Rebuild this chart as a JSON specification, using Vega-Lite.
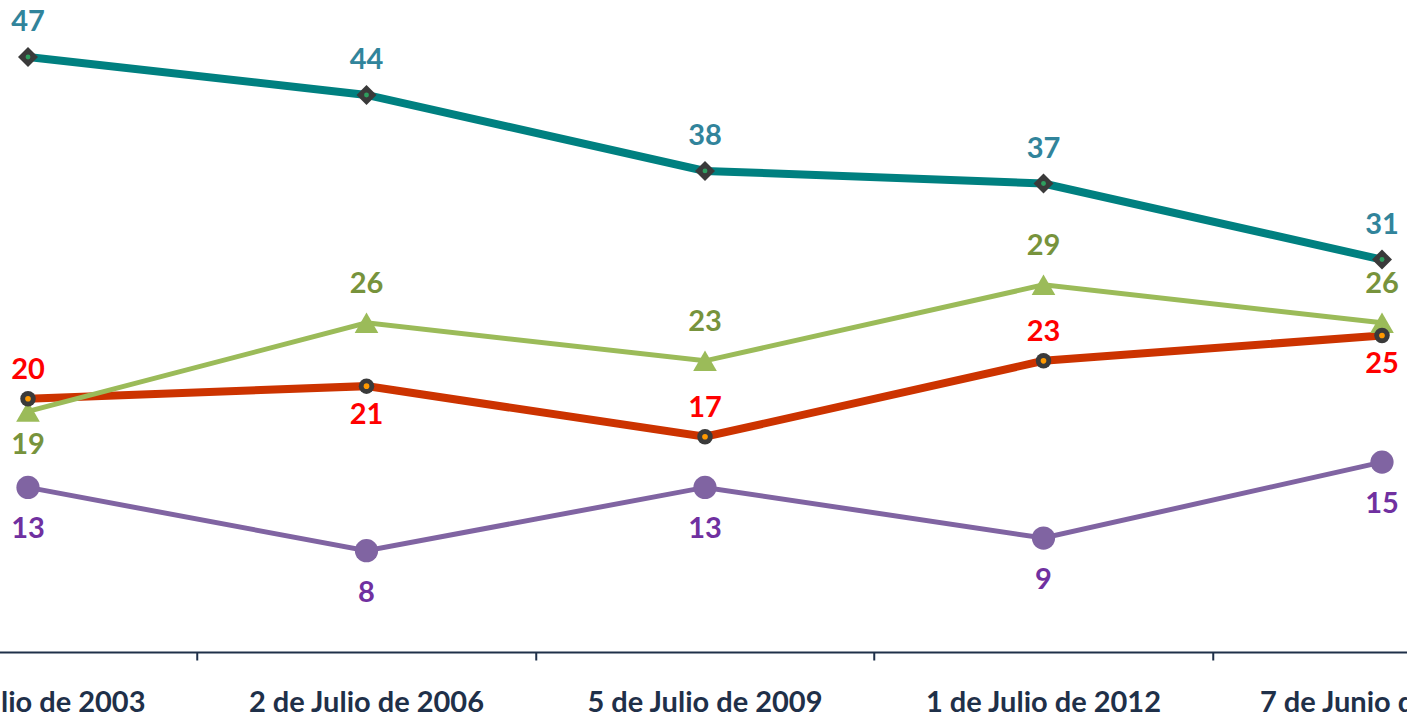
{
  "$schema": "https://vega.github.io/schema/vega-lite/v6.json",
  "width": 1692.5,
  "height": 652,
  "autosize": "none",
  "padding": {"left": -141.25, "right": -144.25, "top": 0, "bottom": 68},
  "background": "white",
  "config": {"view": {"stroke": null}, "text": {"font": "Lato", "fontWeight": "bold", "fontSize": 29}},
  "data": {
    "values": [
      {"fecha": "6 de Julio de 2003", "serie": "A", "valor": 47, "pos": "arriba"},
      {"fecha": "2 de Julio de 2006", "serie": "A", "valor": 44, "pos": "arriba"},
      {"fecha": "5 de Julio de 2009", "serie": "A", "valor": 38, "pos": "arriba"},
      {"fecha": "1 de Julio de 2012", "serie": "A", "valor": 37, "pos": "arriba"},
      {"fecha": "7 de Junio de 2015", "serie": "A", "valor": 31, "pos": "arriba"},
      {"fecha": "6 de Julio de 2003", "serie": "B", "valor": 19, "pos": "abajo"},
      {"fecha": "2 de Julio de 2006", "serie": "B", "valor": 26, "pos": "arriba"},
      {"fecha": "5 de Julio de 2009", "serie": "B", "valor": 23, "pos": "arriba"},
      {"fecha": "1 de Julio de 2012", "serie": "B", "valor": 29, "pos": "arriba"},
      {"fecha": "7 de Junio de 2015", "serie": "B", "valor": 26, "pos": "arriba"},
      {"fecha": "6 de Julio de 2003", "serie": "C", "valor": 20, "pos": "arriba"},
      {"fecha": "2 de Julio de 2006", "serie": "C", "valor": 21, "pos": "abajo"},
      {"fecha": "5 de Julio de 2009", "serie": "C", "valor": 17, "pos": "arriba"},
      {"fecha": "1 de Julio de 2012", "serie": "C", "valor": 23, "pos": "arriba"},
      {"fecha": "7 de Junio de 2015", "serie": "C", "valor": 25, "pos": "abajo"},
      {"fecha": "6 de Julio de 2003", "serie": "D", "valor": 13, "pos": "abajo"},
      {"fecha": "2 de Julio de 2006", "serie": "D", "valor": 8, "pos": "abajo"},
      {"fecha": "5 de Julio de 2009", "serie": "D", "valor": 13, "pos": "abajo"},
      {"fecha": "1 de Julio de 2012", "serie": "D", "valor": 9, "pos": "abajo"},
      {"fecha": "7 de Junio de 2015", "serie": "D", "valor": 15, "pos": "abajo"}
    ]
  },
  "encoding": {
    "x": {
      "field": "fecha",
      "type": "nominal",
      "sort": null,
      "scale": {"type": "band", "paddingInner": 0, "paddingOuter": 0},
      "axis": {
        "title": null,
        "bandPosition": 0,
        "labelOffset": 0,
        "labelAngle": 0,
        "labelFont": "Lato",
        "labelFontWeight": "bold",
        "labelFontSize": 29,
        "labelColor": "#1f3049",
        "labelPadding": 28,
        "labelLimit": 0,
        "labelOverlap": false,
        "labelBound": false,
        "labelFlush": false,
        "domainColor": "#1f3049",
        "domainWidth": 2,
        "tickColor": "#1f3049",
        "tickWidth": 2,
        "tickSize": 8,
        "grid": false
      }
    },
    "y": {
      "field": "valor",
      "type": "quantitative",
      "scale": {"domain": [0, 51.5], "nice": false, "zero": true},
      "axis": null
    }
  },
  "layer": [
    {"transform": [{"filter": "datum.serie === 'A'"}], "mark": {"type": "line", "color": "#008080", "strokeWidth": 8}},
    {"transform": [{"filter": "datum.serie === 'D'"}], "mark": {"type": "line", "color": "#8064a2", "strokeWidth": 5}},
    {"transform": [{"filter": "datum.serie === 'C'"}], "mark": {"type": "line", "color": "#cc3300", "strokeWidth": 8}},
    {"transform": [{"filter": "datum.serie === 'B'"}], "mark": {"type": "line", "color": "#9bbb59", "strokeWidth": 5}},
    {"transform": [{"filter": "datum.serie === 'A'"}], "mark": {"type": "point", "shape": "diamond", "filled": true, "color": "#3a3a3a", "size": 400, "opacity": 1}},
    {"transform": [{"filter": "datum.serie === 'A'"}], "mark": {"type": "point", "shape": "circle", "filled": true, "color": "#2e9e5e", "size": 24, "opacity": 1}},
    {"transform": [{"filter": "datum.serie === 'D'"}], "mark": {"type": "point", "shape": "circle", "filled": true, "color": "#8064a2", "size": 540, "opacity": 1}},
    {"transform": [{"filter": "datum.serie === 'B'"}], "mark": {"type": "point", "shape": "triangle-up", "filled": true, "color": "#9bbb59", "size": 560, "opacity": 1}},
    {"transform": [{"filter": "datum.serie === 'C'"}], "mark": {"type": "point", "shape": "circle", "filled": true, "color": "#3a3a3a", "size": 240, "opacity": 1}},
    {"transform": [{"filter": "datum.serie === 'C'"}], "mark": {"type": "point", "shape": "circle", "filled": true, "color": "#ff9900", "size": 32, "opacity": 1}},
    {"transform": [{"filter": "datum.serie === 'A'"}], "mark": {"type": "text", "color": "#31849b", "baseline": "middle", "dy": -35}, "encoding": {"text": {"field": "valor"}}},
    {"transform": [{"filter": "datum.serie === 'B' && datum.pos === 'arriba'"}], "mark": {"type": "text", "color": "#77933c", "baseline": "middle", "dy": -39}, "encoding": {"text": {"field": "valor"}}},
    {"transform": [{"filter": "datum.serie === 'B' && datum.pos === 'abajo'"}], "mark": {"type": "text", "color": "#77933c", "baseline": "middle", "dy": 34}, "encoding": {"text": {"field": "valor"}}},
    {"transform": [{"filter": "datum.serie === 'C' && datum.pos === 'arriba'"}], "mark": {"type": "text", "color": "#ff0000", "baseline": "middle", "dy": -29}, "encoding": {"text": {"field": "valor"}}},
    {"transform": [{"filter": "datum.serie === 'C' && datum.pos === 'abajo'"}], "mark": {"type": "text", "color": "#ff0000", "baseline": "middle", "dy": 29}, "encoding": {"text": {"field": "valor"}}},
    {"transform": [{"filter": "datum.serie === 'D'"}], "mark": {"type": "text", "color": "#7030a0", "baseline": "middle", "dy": 42}, "encoding": {"text": {"field": "valor"}}}
  ]
}
